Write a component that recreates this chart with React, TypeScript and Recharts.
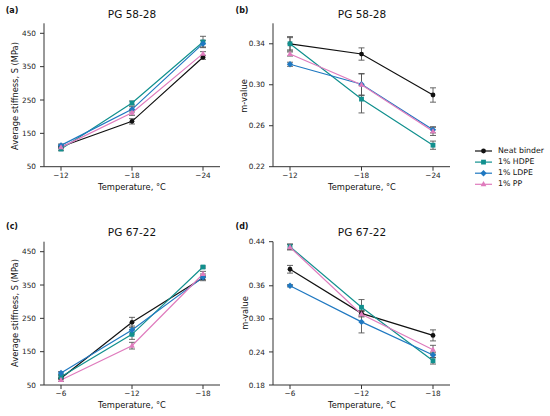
import type { FC, ReactElement } from "react";
import { LineChart, Line, XAxis, YAxis, ErrorBar } from "recharts";

// temperatures on the x axis
const tempsTop = ["−12", "−18", "−24"];
const tempsBottom = ["−6", "−12", "−18"];

// (a) PG 58-28 stiffness
const neatA = [110, 186, 378];
const neatAErr = [5, 8, 6];
const hdpeA = [103, 241, 424];
const hdpeAErr = [5, 6, 17];
const ldpeA = [114, 222, 419];
const ldpeAErr = [4, 8, 10];
const ppA = [108, 212, 389];
const ppAErr = [4, 8, 6];

// (b) PG 58-28 m-value
const neatB = [0.34, 0.33, 0.29];
const neatBErr = [0.006, 0.006, 0.007];
const hdpeB = [0.34, 0.286, 0.241];
const hdpeBErr = [0.007, 0.0135, 0.004];
const ldpeB = [0.32, 0.3005, 0.256];
const ldpeBErr = [0.002, 0.0105, 0.003];
const ppB = [0.33, 0.3, 0.2545];
const ppBErr = [0.002, 0.0105, 0.004];

// (c) PG 67-22 stiffness
const neatC = [70, 238, 372];
const neatCErr = [4, 15, 6];
const hdpeC = [75, 202, 404];
const hdpeCErr = [4, 15, 3];
const ldpeC = [86, 215, 373];
const ldpeCErr = [4, 12, 10];
const ppC = [65, 168, 383];
const ppCErr = [4, 10, 8];

// (d) PG 67-22 m-value
const neatD = [0.39, 0.31, 0.27];
const neatDErr = [0.007, 0.005, 0.01];
const hdpeD = [0.431, 0.321, 0.224];
const hdpeDErr = [0.005, 0.014, 0.006];
const ldpeD = [0.36, 0.2945, 0.2345];
const ldpeDErr = [0.002, 0.02, 0.005];
const ppD = [0.43, 0.3085, 0.244];
const ppDErr = [0.005, 0.005, 0.008];

// axis ticks
const stiffTicks = [50, 150, 250, 350, 450];
const mTicksTop = [0.22, 0.26, 0.3, 0.34];
const mTicksBottom = [0.18, 0.24, 0.3, 0.36, 0.44];

const seriesNames = ["Neat binder", "1% HDPE", "1% LDPE", "1% PP"];
const seriesKeys = ["neat", "hdpe", "ldpe", "pp"];
const seriesColors = ["#111111", "#11908e", "#1f78c1", "#df7bbd"];
const seriesShapes = ["circle", "square", "diamond", "triangle"];

const FONT = "'DejaVu Sans', sans-serif";
const AXIS = "#333";

type Row = Record<string, number | string>;

function makeRows(cats: string[], vals: number[][], errs: number[][]): Row[] {
  return cats.map((t, i) => {
    const row: Row = { t };
    seriesKeys.forEach((k, s) => {
      row[k] = vals[s][i];
      row[k + "Err"] = errs[s][i];
    });
    return row;
  });
}

const rowsA = makeRows(tempsTop, [neatA, hdpeA, ldpeA, ppA], [neatAErr, hdpeAErr, ldpeAErr, ppAErr]);
const rowsB = makeRows(tempsTop, [neatB, hdpeB, ldpeB, ppB], [neatBErr, hdpeBErr, ldpeBErr, ppBErr]);
const rowsC = makeRows(tempsBottom, [neatC, hdpeC, ldpeC, ppC], [neatCErr, hdpeCErr, ldpeCErr, ppCErr]);
const rowsD = makeRows(tempsBottom, [neatD, hdpeD, ldpeD, ppD], [neatDErr, hdpeDErr, ldpeDErr, ppDErr]);

function marker(shape: string, cx: number, cy: number, color: string, key?: string): ReactElement {
  if (shape === "square") {
    return <rect key={key} x={cx - 2.4} y={cy - 2.4} width={4.8} height={4.8} fill={color} />;
  }
  if (shape === "diamond") {
    return (
      <polygon
        key={key}
        points={`${cx},${cy - 3.2} ${cx + 3.2},${cy} ${cx},${cy + 3.2} ${cx - 3.2},${cy}`}
        fill={color}
      />
    );
  }
  if (shape === "triangle") {
    return (
      <polygon
        key={key}
        points={`${cx},${cy - 3.2} ${cx + 2.9},${cy + 2} ${cx - 2.9},${cy + 2}`}
        fill={color}
      />
    );
  }
  return <circle key={key} cx={cx} cy={cy} r={2.4} fill={color} />;
}

type PanelProps = {
  left: number;
  top: number;
  width: number;
  height: number;
  marginTop: number;
  xHeight: number;
  rows: Row[];
  domain: [number, number];
  ticks: number[];
  decimals: number;
};

const Panel: FC<PanelProps> = ({ left, top, width, height, marginTop, xHeight, rows, domain, ticks, decimals }) => (
  <div style={{ position: "absolute", left, top }}>
    <LineChart width={width} height={height} data={rows} margin={{ top: marginTop, right: 0, bottom: 0, left: 0 }}>
      <XAxis
        dataKey="t"
        height={xHeight}
        padding={{ left: 17, right: 17 }}
        interval={0}
        stroke={AXIS}
        tickSize={4}
        tickMargin={2}
        tick={{ fontSize: 7.3, fill: "#222" }}
      />
      <YAxis
        width={44}
        domain={domain}
        ticks={ticks}
        interval={0}
        allowDataOverflow
        stroke={AXIS}
        tickSize={4}
        tickMargin={4}
        tick={{ fontSize: 7.3, fill: "#222" }}
        tickFormatter={(v: number) => (decimals ? v.toFixed(decimals) : String(v))}
      />
      {seriesKeys.map((k, s) => (
        <Line
          key={k}
          dataKey={k}
          stroke={seriesColors[s]}
          strokeWidth={1.2}
          isAnimationActive={false}
          dot={(p: any) => marker(seriesShapes[s], p.cx, p.cy, seriesColors[s], `${k}-${p.index}`)}
          activeDot={false}
        >
          <ErrorBar dataKey={k + "Err"} width={3} stroke="#555" strokeWidth={0.9} />
        </Line>
      ))}
    </LineChart>
  </div>
);

const Text: FC<{ x: number; y: number; size: number; bold?: boolean; rotate?: boolean; align?: string; children: string }> = ({
  x,
  y,
  size,
  bold,
  rotate,
  align,
  children,
}) => (
  <div
    style={{
      position: "absolute",
      left: x,
      top: y,
      fontSize: size,
      fontWeight: bold ? "bold" : "normal",
      whiteSpace: "nowrap",
      lineHeight: 1,
      color: "#111",
      transform:
        align === "left"
          ? "translate(0,-50%)"
          : `translate(-50%,-50%)${rotate ? " rotate(-90deg)" : ""}`,
    }}
  >
    {children}
  </div>
);

export default function App() {
  return (
    <div
      style={{
        position: "absolute",
        left: 0,
        top: 0,
        width: 550,
        height: 416,
        overflow: "hidden",
        background: "#fff",
        fontFamily: FONT,
      }}
    >
      <Panel left={0} top={0} width={220} height={200} marginTop={23.3} xHeight={33.3} rows={rowsA} domain={[50, 480]} ticks={stiffTicks} decimals={0} />
      <Panel left={229.3} top={0} width={221} height={200} marginTop={23.3} xHeight={33.3} rows={rowsB} domain={[0.22, 0.36]} ticks={mTicksTop} decimals={2} />
      <Panel left={0} top={218} width={220} height={198} marginTop={23.7} xHeight={31} rows={rowsC} domain={[50, 480]} ticks={stiffTicks} decimals={0} />
      <Panel left={229.3} top={218} width={221} height={198} marginTop={23.7} xHeight={31} rows={rowsD} domain={[0.18, 0.44]} ticks={mTicksBottom} decimals={2} />

      {/* panel tags and titles */}
      <Text x={12} y={11} size={8} bold>(a)</Text>
      <Text x={242} y={11} size={8} bold>(b)</Text>
      <Text x={12} y={227} size={8} bold>(c)</Text>
      <Text x={242} y={227} size={8} bold>(d)</Text>
      <Text x={132} y={14} size={10.5}>PG 58-28</Text>
      <Text x={362} y={14} size={10.5}>PG 58-28</Text>
      <Text x={132} y={232} size={10.5}>PG 67-22</Text>
      <Text x={362} y={232} size={10.5}>PG 67-22</Text>

      {/* axis labels */}
      <Text x={15} y={96} size={8.3} rotate>Average stiffness, S (MPa)</Text>
      <Text x={244} y={96} size={8.3} rotate>m-value</Text>
      <Text x={15} y={313} size={8.3} rotate>Average stiffness, S (MPa)</Text>
      <Text x={245} y={313} size={8.3} rotate>m-value</Text>
      <Text x={132} y={187} size={8.3}>Temperature, °C</Text>
      <Text x={362} y={187} size={8.3}>Temperature, °C</Text>
      <Text x={132} y={405} size={8.3}>Temperature, °C</Text>
      <Text x={362} y={405} size={8.3}>Temperature, °C</Text>

      {/* legend */}
      <svg style={{ position: "absolute", left: 473, top: 145 }} width={22} height={46}>
        {seriesNames.map((n, s) => (
          <g key={n}>
            <line x1={2} x2={19} y1={6 + s * 11.1} y2={6 + s * 11.1} stroke={seriesColors[s]} strokeWidth={1.2} />
            {marker(seriesShapes[s], 10.5, 6 + s * 11.1, seriesColors[s])}
          </g>
        ))}
      </svg>
      {seriesNames.map((n, s) => (
        <Text key={n} x={498} y={151 + s * 11.1} size={7.8} align="left">
          {n}
        </Text>
      ))}
    </div>
  );
}
